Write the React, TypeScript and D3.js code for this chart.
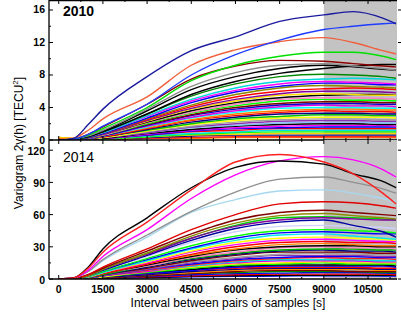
import React, { useRef, useEffect } from "react";
import * as d3 from "d3";

const T = [0, 500, 1000, 1500, 3000, 4500, 6000, 7500, 9000, 10000, 11000, 11450];
const X_TICKS = [0, 1500, 3000, 4500, 6000, 7500, 9000, 10500];
const TOP_Y_TICKS = [0, 4, 8, 12, 16];
const BOTTOM_Y_TICKS = [0, 30, 60, 90, 120];
const SHADE_FROM = 9000;

const TOP_COLORS = [
  "#1a1a9e", "#1f3cff", "#f0603c", "#00e000", "#8b0000", "#8c8c8c", "#000000", "#000000",
  "#008800", "#00d8d8", "#ff00ff", "#0000ff", "#8b8b00", "#ff0000", "#8000a0", "#ffe000",
  "#000000", "#ff80c0", "#00ff00", "#800000", "#0000cc", "#e000e0", "#00ffff", "#ff8000",
  "#ff0000", "#000080", "#00c000", "#ffff00", "#a0a0a0", "#9030b0", "#80c0ff", "#000000",
  "#ff00ff", "#0000ff", "#ff0000", "#00e0e0", "#00ff00", "#ffd000", "#000080", "#ff2020",
  "#ff9000", "#ffffff",
];

const TOP_SERIES = [
  [0, 0.2, 1.9, 3.8, 7.8, 11.0, 12.7, 14.6, 15.4, 15.8, 15.0, 14.3],
  [0, 0.1, 0.7, 1.7, 4.4, 8.0, 10.5, 12.3, 13.6, 14.0, 14.3, 14.4],
  [0, 0.2, 1.2, 2.6, 5.3, 9.2, 11.1, 12.1, 12.6, 12.0, 11.0, 10.6],
  [0, 0.1, 0.6, 1.4, 4.0, 7.3, 9.2, 10.3, 10.8, 10.8, 10.3, 9.9],
  [0, 0.1, 0.7, 1.6, 4.4, 7.5, 9.1, 9.8, 9.7, 9.4, 9.1, 9.0],
  [0, 0.1, 0.5, 1.2, 3.8, 6.6, 8.3, 9.2, 9.4, 9.1, 8.8, 8.6],
  [0, 0.1, 0.5, 1.1, 3.6, 6.2, 7.8, 8.8, 9.2, 9.0, 8.7, 8.6],
  [0, 0.1, 0.4, 1.0, 3.2, 5.6, 7.2, 8.2, 8.8, 9.1, 9.3, 9.3],
  [0, 0.1, 0.4, 1.0, 3.2, 5.4, 6.9, 7.8, 8.1, 8.0, 7.8, 7.6],
  [0, 0.1, 0.4, 0.9, 3.0, 5.0, 6.4, 7.2, 7.5, 7.6, 7.5, 7.4],
  [0, 0.1, 0.4, 0.9, 2.9, 4.8, 6.1, 6.9, 7.2, 7.1, 7.0, 6.9],
  [0, 0.05, 0.3, 0.8, 2.7, 4.6, 5.9, 6.6, 7.0, 7.0, 6.8, 6.8],
  [0, 0.05, 0.3, 0.8, 2.6, 4.3, 5.6, 6.4, 6.7, 6.6, 6.5, 6.4],
  [0, 0.05, 0.3, 0.8, 2.5, 4.1, 5.3, 6.0, 6.3, 6.4, 6.3, 6.2],
  [0, 0.05, 0.3, 0.7, 2.4, 3.9, 5.0, 5.7, 6.0, 6.0, 5.9, 5.8],
  [0, 0.05, 0.3, 0.7, 2.3, 3.8, 4.8, 5.5, 5.7, 5.6, 5.5, 5.5],
  [0, 0.05, 0.3, 0.7, 2.2, 3.6, 4.6, 5.2, 5.5, 5.6, 5.6, 5.5],
  [0, 0.05, 0.25, 0.6, 2.1, 3.4, 4.4, 5.0, 5.2, 5.2, 5.1, 5.0],
  [0, 0.05, 0.25, 0.6, 2.0, 3.3, 4.2, 4.8, 5.0, 4.9, 4.9, 4.8],
  [0, 0.05, 0.25, 0.6, 1.9, 3.1, 4.0, 4.5, 4.7, 4.7, 4.6, 4.6],
  [0, 0.05, 0.2, 0.5, 1.8, 3.0, 3.8, 4.3, 4.5, 4.5, 4.4, 4.4],
  [0, 0.05, 0.2, 0.5, 1.7, 2.8, 3.6, 4.1, 4.3, 4.2, 4.2, 4.1],
  [0, 0.05, 0.2, 0.5, 1.6, 2.7, 3.4, 3.9, 4.0, 4.0, 3.9, 3.9],
  [0, 0.05, 0.2, 0.5, 1.5, 2.5, 3.2, 3.6, 3.8, 3.8, 3.7, 3.7],
  [0, 0.05, 0.2, 0.4, 1.4, 2.4, 3.0, 3.4, 3.6, 3.5, 3.5, 3.4],
  [0, 0.05, 0.15, 0.4, 1.3, 2.2, 2.8, 3.2, 3.3, 3.3, 3.2, 3.2],
  [0, 0.05, 0.15, 0.4, 1.2, 2.0, 2.6, 2.9, 3.1, 3.1, 3.0, 3.0],
  [0, 0.1, 0.15, 0.3, 1.1, 1.9, 2.4, 2.7, 2.8, 2.8, 2.8, 2.7],
  [0, 0.05, 0.15, 0.3, 1.0, 1.7, 2.2, 2.5, 2.6, 2.6, 2.5, 2.5],
  [0, 0.05, 0.1, 0.3, 0.9, 1.6, 2.0, 2.3, 2.4, 2.4, 2.3, 2.3],
  [0, 0.05, 0.1, 0.3, 0.9, 1.5, 1.8, 2.1, 2.2, 2.2, 2.1, 2.1],
  [0, 0.05, 0.1, 0.2, 0.8, 1.3, 1.7, 1.9, 2.0, 2.0, 1.9, 1.9],
  [0, 0.05, 0.1, 0.2, 0.7, 1.2, 1.5, 1.7, 1.8, 1.8, 1.8, 1.7],
  [0, 0.05, 0.1, 0.2, 0.6, 1.1, 1.4, 1.5, 1.6, 1.6, 1.6, 1.6],
  [0, 0.05, 0.1, 0.2, 0.6, 1.0, 1.2, 1.4, 1.4, 1.4, 1.4, 1.4],
  [0, 0.05, 0.1, 0.2, 0.5, 0.8, 1.0, 1.2, 1.2, 1.2, 1.2, 1.2],
  [0, 0.05, 0.05, 0.1, 0.4, 0.7, 0.9, 1.0, 1.0, 1.0, 1.0, 1.0],
  [0.3, 0.2, 0.1, 0.1, 0.4, 0.6, 0.7, 0.8, 0.8, 0.8, 0.8, 0.8],
  [0, 0.05, 0.05, 0.1, 0.3, 0.5, 0.6, 0.6, 0.6, 0.6, 0.6, 0.6],
  [0.2, 0.2, 0.1, 0.1, 0.2, 0.3, 0.4, 0.4, 0.4, 0.4, 0.4, 0.4],
  [0.3, 0.2, 0.1, 0.1, 0.2, 0.2, 0.3, 0.3, 0.3, 0.3, 0.3, 0.3],
  [0, 0.05, 0.05, 0.1, 0.3, 0.4, 0.5, 0.5, 0.5, 0.5, 0.5, 0.5],
];

const BOTTOM_COLORS = [
  "#ff2020", "#000000", "#ff00ff", "#909090", "#a8d8f0", "#e00000", "#800000", "#8b8b00",
  "#8000a0", "#00d000", "#0000a0", "#d0d0ff", "#00ff00", "#0000ff", "#00e8e8", "#ffff00",
  "#ff00ff", "#ff0000", "#ff8000", "#000000", "#ff80c0", "#00b000", "#000080", "#800000",
  "#a0a0a0", "#9030b0", "#0000ff", "#ff2020", "#00e0e0", "#e000e0", "#ffe000", "#00ff00",
  "#000000", "#0000ff", "#ff0000", "#000080", "#ff9000", "#800000", "#008800", "#0000ff",
  "#ff0000", "#000000", "#0000ff",
];

const BOTTOM_SERIES = [
  [0, 1, 10, 25, 53, 83, 109, 116, 109, 98, 80, 70],
  [0, 1, 11, 28, 57, 85, 104, 110, 107, 98, 91, 85],
  [0, 1, 8, 21, 46, 75, 97, 110, 114, 111, 102, 95],
  [0, 1, 7, 18, 41, 63, 81, 93, 95, 90, 84, 80],
  [0, 1, 7, 17, 39, 62, 74, 82, 83, 80, 75, 72],
  [0, 0.5, 4, 11, 28, 46, 60, 70, 72, 71, 68, 66],
  [0, 0.5, 4, 10, 26, 42, 55, 62, 64, 62, 60, 59],
  [0, 0.5, 3, 9, 24, 40, 52, 59, 61, 59, 57, 56],
  [0, 0.5, 3, 9, 23, 38, 49, 55, 57, 56, 55, 55],
  [0, 0.5, 3, 9, 24, 38, 50, 57, 58, 57, 56, 55],
  [0, 0.5, 3, 8, 22, 36, 47, 53, 55, 50, 44, 39],
  [0, 0.5, 3, 8, 21, 34, 44, 49, 50, 49, 48, 47],
  [0, 0.4, 2.5, 7, 19, 31, 40, 45, 46, 45, 44, 43],
  [0, 0.4, 2.5, 7, 18, 29, 38, 43, 44, 43, 42, 42],
  [0, 0.4, 2, 6, 17, 28, 36, 41, 42, 40, 38, 37],
  [0, 0.4, 2, 6, 16, 26, 34, 38, 39, 38, 37, 36],
  [0, 0.4, 2, 6, 15, 25, 32, 36, 37, 36, 35, 35],
  [0, 0.3, 2, 5, 14, 23, 30, 34, 35, 34, 34, 33],
  [0, 0.3, 2, 5, 14, 22, 28, 32, 33, 32, 31, 31],
  [0, 0.3, 2, 5, 13, 21, 27, 30, 31, 31, 30, 30],
  [0, 0.3, 2, 5, 12, 20, 25, 29, 30, 29, 29, 28],
  [0, 0.3, 1.5, 4, 12, 19, 24, 27, 28, 28, 27, 27],
  [0, 0.3, 1.5, 4, 11, 18, 23, 26, 27, 26, 26, 25],
  [0, 0.3, 1.5, 4, 10, 17, 22, 25, 25, 25, 24, 24],
  [0, 0.3, 1.5, 4, 10, 16, 20, 23, 24, 23, 23, 22],
  [0, 0.2, 1, 3, 9, 15, 19, 22, 22, 22, 21, 21],
  [0, 0.2, 1, 3, 9, 14, 18, 20, 21, 21, 20, 20],
  [0, 0.2, 1, 3, 8, 13, 17, 19, 20, 19, 19, 18],
  [0, 0.2, 1, 3, 8, 12, 16, 18, 18, 18, 17, 17],
  [0, 0.2, 1, 3, 7, 12, 15, 17, 17, 17, 16, 16],
  [0, 0.2, 0.8, 2, 7, 11, 14, 15, 16, 15, 15, 15],
  [0, 0.2, 0.8, 2, 6, 10, 13, 14, 15, 14, 14, 14],
  [0, 0.2, 0.8, 2, 6, 9, 12, 13, 13, 13, 13, 12],
  [0, 0.2, 0.8, 2, 5, 8, 11, 12, 12, 12, 12, 11],
  [0, 0.1, 0.6, 2, 5, 8, 10, 11, 11, 11, 10, 10],
  [0, 0.1, 0.5, 1.5, 4, 7, 9, 10, 10, 10, 9, 9],
  [0, 0.1, 0.5, 1.5, 4, 6, 8, 9, 9, 9, 8, 8],
  [0, 0.1, 0.4, 1, 3, 5, 7, 8, 8, 7, 7, 7],
  [0, 0.1, 0.4, 1, 3, 5, 6, 7, 7, 7, 6, 6],
  [0, 0.1, 0.4, 1, 2.5, 4, 5, 5.5, 6, 6, 5.5, 5],
  [0, 0.1, 0.3, 0.8, 2, 3, 4, 4.5, 4.5, 4.5, 4.5, 4],
  [0, 0.1, 0.2, 0.6, 1.5, 2.5, 3, 3.5, 3.5, 3.5, 3.5, 3.5],
  [0, 0.1, 0.2, 0.5, 1.2, 2, 2.5, 2.8, 3, 3, 2.8, 2.8],
];

const PANELS = [
  { label: "2010", bold: true, series: TOP_SERIES, colors: TOP_COLORS, ticks: TOP_Y_TICKS, max: 17.23, minor: 2, y0: 0, y1: 140 },
  { label: "2014", bold: false, series: BOTTOM_SERIES, colors: BOTTOM_COLORS, ticks: BOTTOM_Y_TICKS, max: 129.5, minor: 15, y0: 140, y1: 279 },
];

const FONT = "'Liberation Sans', Arial, sans-serif";

export default function App() {
  const svgRef = useRef<SVGSVGElement>(null);

  useEffect(() => {
    const width = 401;
    const height = 320;
    const left = 49;
    const right = 396;

    const svg = d3.select(svgRef.current);
    svg.selectAll("*").remove();
    svg.attr("width", width).attr("height", height).attr("viewBox", `0 0 ${width} ${height}`);

    const x = d3.scaleLinear().domain([-330, 11450]).range([left, right]);
    const minorX = d3.range(-750, 11450, 750).filter((v) => v >= -330 && v % 1500 !== 0);

    PANELS.forEach((p, pi) => {
      const y = d3.scaleLinear().domain([0, p.max]).range([p.y1, p.y0]);
      const g = svg.append("g");

      const clipId = `clip${pi}`;
      g.append("clipPath")
        .attr("id", clipId)
        .append("rect")
        .attr("x", left)
        .attr("y", p.y0)
        .attr("width", right - left + 1)
        .attr("height", p.y1 - p.y0);

      // shaded region
      g.append("rect")
        .attr("x", x(SHADE_FROM))
        .attr("y", p.y0)
        .attr("width", right - x(SHADE_FROM) + 1)
        .attr("height", p.y1 - p.y0)
        .attr("fill", "#c3c3c3");

      const line = d3
        .line<number>()
        .x((_, i) => x(T[i]))
        .y((d) => y(d))
        .curve(d3.curveMonotoneX);

      // draw small sills first so the big curves sit on top
      const order = d3.range(p.series.length).reverse();
      g.append("g")
        .attr("clip-path", `url(#${clipId})`)
        .selectAll("path")
        .data(order)
        .join("path")
        .attr("d", (i) => line(p.series[i]))
        .attr("fill", "none")
        .attr("stroke", (i) => p.colors[i % p.colors.length])
        .attr("stroke-width", 1.4);

      // frame
      g.append("line").attr("x1", left).attr("x2", left).attr("y1", p.y0).attr("y2", p.y1).attr("stroke", "#000").attr("stroke-width", 1.3);
      g.append("line").attr("x1", left).attr("x2", right + 1).attr("y1", p.y1).attr("y2", p.y1).attr("stroke", "#000").attr("stroke-width", 1.3);
      if (pi === 0) {
        g.append("line").attr("x1", left).attr("x2", right + 1).attr("y1", 0.6).attr("y2", 0.6).attr("stroke", "#000").attr("stroke-width", 1.2);
      }

      // y ticks (inward) + labels
      const minorY = d3.range(p.minor, p.max, p.minor * 2);
      g.selectAll(".ymaj")
        .data(p.ticks)
        .join("line")
        .attr("class", "ymaj")
        .attr("x1", left)
        .attr("x2", left + 4)
        .attr("y1", (d) => y(d))
        .attr("y2", (d) => y(d))
        .attr("stroke", "#000");
      g.selectAll(".ymin")
        .data(minorY)
        .join("line")
        .attr("class", "ymin")
        .attr("x1", left)
        .attr("x2", left + 2)
        .attr("y1", (d) => y(d))
        .attr("y2", (d) => y(d))
        .attr("stroke", "#000");
      g.selectAll(".yright")
        .data(p.ticks)
        .join("line")
        .attr("class", "yright")
        .attr("x1", right + 2)
        .attr("x2", right + 5)
        .attr("y1", (d) => y(d))
        .attr("y2", (d) => y(d))
        .attr("stroke", "#000");
      g.selectAll(".ylab")
        .data(p.ticks)
        .join("text")
        .attr("class", "ylab")
        .attr("x", 45)
        .attr("y", (d) => y(d) + (pi === 1 ? 4.5 : 3.5))
        .attr("text-anchor", "end")
        .attr("font-family", FONT)
        .attr("font-size", 10.5)
        .attr("font-weight", "bold")
        .text((d) => d);

      // x ticks on top and bottom edges of each panel, pointing inward
      [p.y0, p.y1].forEach((edge, ei) => {
        const dir = ei === 0 ? 1 : -1;
        g.append("g")
          .selectAll("line")
          .data(X_TICKS)
          .join("line")
          .attr("x1", (d) => x(d))
          .attr("x2", (d) => x(d))
          .attr("y1", edge)
          .attr("y2", edge + dir * 4)
          .attr("stroke", "#000");
        g.append("g")
          .selectAll("line")
          .data(minorX)
          .join("line")
          .attr("x1", (d) => x(d))
          .attr("x2", (d) => x(d))
          .attr("y1", edge)
          .attr("y2", edge + dir * 2)
          .attr("stroke", "#000");
      });

      g.append("text")
        .attr("x", 63)
        .attr("y", p.y0 + (pi === 0 ? 15.5 : 162 - 140))
        .attr("font-family", FONT)
        .attr("font-size", 14)
        .attr("font-weight", p.bold ? "bold" : "normal")
        .text(p.label);

      if (pi === 1) {
        g.selectAll(".xlab")
          .data(X_TICKS)
          .join("text")
          .attr("class", "xlab")
          .attr("x", (d) => x(d))
          .attr("y", 293)
          .attr("text-anchor", "middle")
          .attr("font-family", FONT)
          .attr("font-size", 10.5)
          .attr("font-weight", "bold")
          .text((d) => d);
      }
    });

    svg
      .append("text")
      .attr("x", 228)
      .attr("y", 307)
      .attr("text-anchor", "middle")
      .attr("font-family", FONT)
      .attr("font-size", 12)
      .text("Interval between pairs of samples [s]");

    const yt = svg
      .append("text")
      .attr("transform", "translate(23,143) rotate(-90)")
      .attr("text-anchor", "middle")
      .attr("font-family", FONT)
      .attr("font-size", 12);
    yt.append("tspan").text("Variogram 2\u03b3(h) [TECU");
    yt.append("tspan").attr("font-size", 8).attr("dy", -5).text("2");
    yt.append("tspan").attr("dy", 5).text("]");
  }, []);

  return <svg ref={svgRef} style={{ position: "absolute", left: 0, top: 0, background: "#fff" }} />;
}
